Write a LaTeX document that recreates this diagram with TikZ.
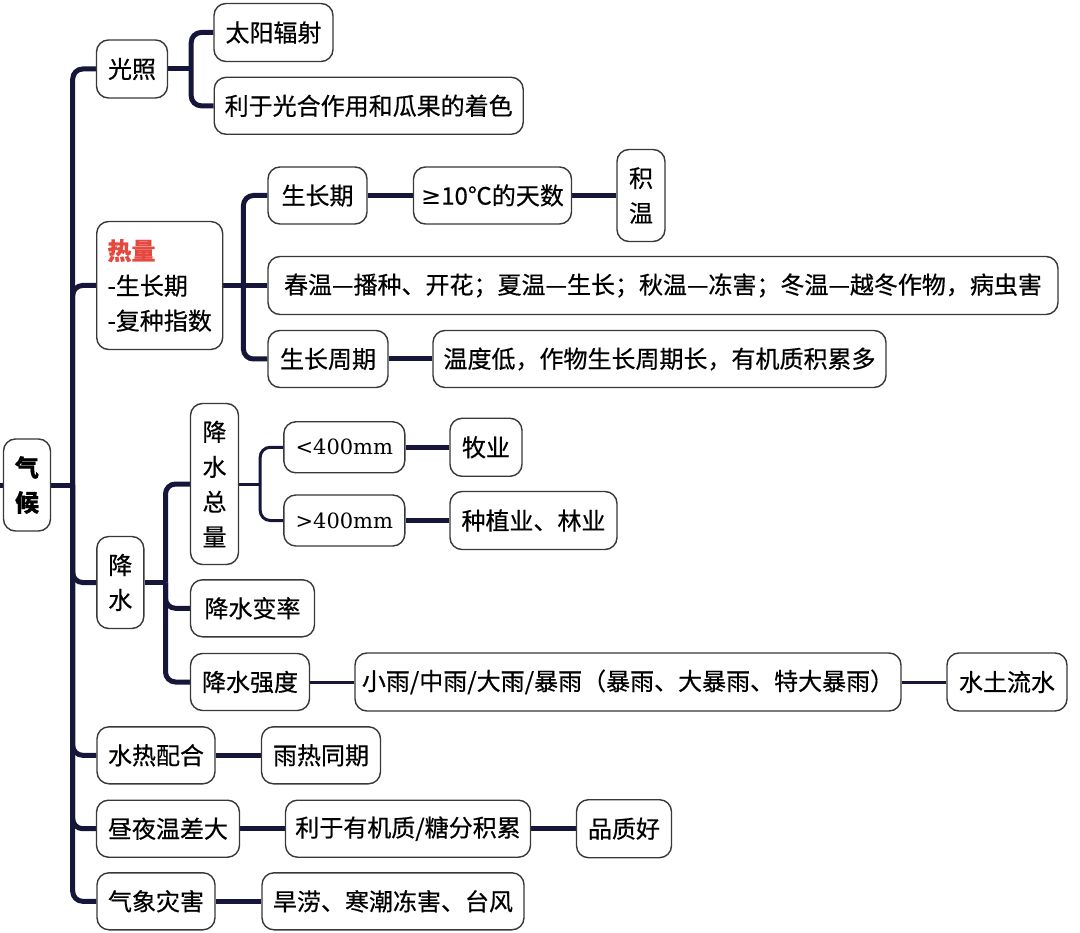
\documentclass[tikz,border=0pt]{standalone}
\usepackage{fontspec}
\setmainfont{Noto Sans CJK SC}[FakeBold=0.5]
\newfontfamily\numfont{DejaVu Serif}
\newfontfamily\symfont{DejaVu Sans}
\usetikzlibrary{backgrounds}
\definecolor{lnc}{HTML}{16163A}
\definecolor{bdc}{HTML}{383838}
\definecolor{redc}{HTML}{E5483F}
\begin{document}
\begin{tikzpicture}[x=1pt,y=-1pt,
  box/.style={draw=bdc,line width=1.4pt,rounded corners=12pt,fill=white,inner sep=0pt,align=center,font=\fontsize{24}{35}\selectfont},
  conn/.style={draw=lnc,line width=5pt},
  thinconn/.style={draw=lnc,line width=3pt},
  rc/.style={rounded corners=10pt}]
\useasboundingbox (0,0) rectangle (1080,933);
% root
\node[box,minimum width=47,minimum height=92] (root) at (27,485) {\textbf{气}\\\textbf{候}};
% level 1
\node[box,minimum width=71,minimum height=58] (gz) at (132,69) {光照};
\node[box,minimum width=126,minimum height=128,align=left] (rl) at (159.7,285.5) {\textcolor{redc}{\textbf{热量}}\\-生长期\\-复种指数};
\node[box,minimum width=47,minimum height=92] (js) at (120.3,582.5) {降\\水};
\node[box,minimum width=118,minimum height=57] (shph) at (156,755.3) {水热配合};
\node[box,minimum width=143,minimum height=57] (zy) at (168,828.7) {昼夜温差大};
\node[box,minimum width=118,minimum height=57] (qxzh) at (156,901.3) {气象灾害};
% light
\node[box,minimum width=119,minimum height=58] (ty) at (273.5,32.5) {太阳辐射};
\node[box,minimum width=309,minimum height=57] (lg) at (368.7,105.8) {利于光合作用和瓜果的着色};
% heat
\node[box,minimum width=99,minimum height=57] (szq) at (317.5,195.5) {生长期};
\node[box,minimum width=158,minimum height=57] (d10) at (492.5,195.5) {{\symfont ≥}10℃的天数};
\node[box,minimum width=48,minimum height=92] (jw) at (641,195.5) {积\\温};
\node[box,minimum width=790,minimum height=58] (cw) at (663,285.5) {春温—播种、开花；夏温—生长；秋温—冻害；冬温—越冬作物，病虫害};
\node[box,minimum width=120,minimum height=57] (szzq) at (328,359) {生长周期};
\node[box,minimum width=453,minimum height=57] (wd) at (659.5,359) {温度低，作物生长周期长，有机质积累多};
% precipitation
\node[box,minimum width=48,minimum height=161] (jszl) at (214.5,484) {降\\水\\总\\量};
\node[box,minimum width=121,minimum height=51,font=\numfont\fontsize{21}{26}\selectfont] (lt) at (344.3,447.3) {<400mm};
\node[box,minimum width=72,minimum height=58] (my) at (486,447.3) {牧业};
\node[box,minimum width=121,minimum height=51,font=\numfont\fontsize{21}{26}\selectfont] (gt) at (344.3,520.5) {>400mm};
\node[box,minimum width=167,minimum height=58] (zz) at (533.5,520.5) {种植业、林业};
\node[box,minimum width=124,minimum height=57] (bl) at (252.5,608.3) {降水变率};
\node[box,minimum width=119,minimum height=57] (qd) at (250,682) {降水强度};
\node[box,minimum width=546,minimum height=58] (xy) at (628,682) {小雨/中雨/大雨/暴雨（暴雨、大暴雨、特大暴雨）};
\node[box,minimum width=120,minimum height=58] (st) at (1007,682) {水土流水};
% others
\node[box,minimum width=119,minimum height=57] (yr) at (321,755.3) {雨热同期};
\node[box,minimum width=245,minimum height=57] (lyj) at (408,828.7) {利于有机质/糖分积累};
\node[box,minimum width=95,minimum height=58] (pzh) at (624,828.7) {品质好};
\node[box,minimum width=262,minimum height=57] (hl) at (393,901.3) {旱涝、寒潮冻害、台风};

\begin{pgfonlayer}{background}
\coordinate (L) at (0,485);
\draw[conn] (root.west) -- (L);
\path (root.east) ++(21.5,0) coordinate (T);
\draw[conn] (root.east) -- (T);
\foreach \c in {gz,rl,js,shph,zy,qxzh} \draw[conn,rc] (\c.west) -| (T);
% light
\path (gz.east) ++(23,0) coordinate (J1);
\draw[conn] (gz.east) -- (J1);
\foreach \c in {ty,lg} \draw[conn,rc] (\c.west) -| (J1);
% heat
\path (rl.east) ++(20,0) coordinate (J2);
\draw[conn] (rl.east) -- (J2) -- (cw.west);
\foreach \c in {szq,szzq} \draw[conn,rc] (\c.west) -| (J2);
\draw[conn] (szq) -- (d10);
\draw[conn] (d10) -- (jw);
\draw[conn] (szzq) -- (wd);
% precipitation
\path (js.east) ++(21,0) coordinate (J3);
\draw[conn] (js.east) -- (J3);
\foreach \c in {jszl,bl,qd} \draw[conn,rc] (\c.west) -| (J3);
\path (jszl.east) ++(21,0) coordinate (J4);
\draw[thinconn] (jszl.east) -- (J4);
\foreach \c in {lt,gt} \draw[thinconn,rc] (\c.west) -| (J4);
\draw[conn] (lt) -- (my);
\draw[conn] (gt) -- (zz);
\draw[thinconn] (qd) -- (xy);
\draw[thinconn] (xy) -- (st);
% others
\draw[conn] (shph) -- (yr);
\draw[conn] (zy) -- (lyj);
\draw[conn] (lyj) -- (pzh);
\draw[conn] (qxzh) -- (hl);
\end{pgfonlayer}
\end{tikzpicture}
\end{document}
